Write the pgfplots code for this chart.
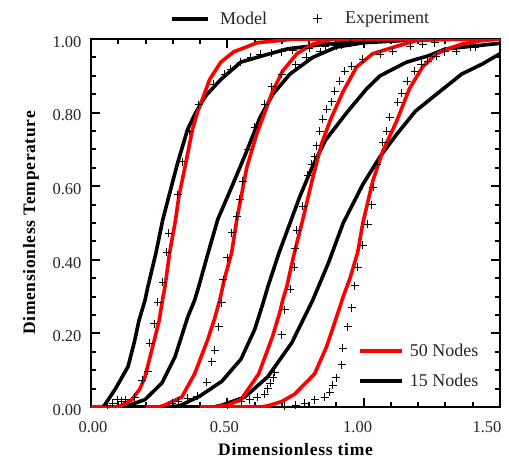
\documentclass[border=0pt]{standalone}
\usepackage{pgfplots}
\pgfplotsset{compat=1.18}
\usepackage{fontspec}
\setmainfont{Liberation Serif}
\newfontfamily\labelfont[LetterSpace=4.0]{Liberation Serif}
\pgfplotsset{modelleg/.style={legend image code/.code={\draw[##1] (0pt,0pt) -- (36pt,0pt);}},
  expleg/.style={legend image code/.code={\draw[##1, draw=none] (0pt,0pt) -- (36pt,0pt); \draw[##1] plot coordinates {(18pt,0pt)};}},
  curve/.style={line width=3.6pt, line join=round, forget plot}}
\begin{document}
\begin{tikzpicture}
\begin{axis}[
  width=409pt, height=368pt, scale only axis,
  xmin=0, xmax=1.5, ymin=0, ymax=1,
  xtick={0,0.5,1,1.5}, minor x tick num=4,
  xticklabels={{\makebox[0pt]{\hspace*{4pt}0.00}},{\makebox[0pt]{\hspace*{-6pt}0.50}},{\makebox[0pt]{\hspace*{-12pt}1.00}},{\makebox[0pt]{\hspace*{-26pt}1.50}}},
  ytick={0,0.2,0.4,0.6,0.8,1}, minor y tick num=3,
  axis line style={line width=2.5pt},
  major tick length=9pt, minor tick length=5pt,
  every tick/.style={line width=2pt, black},
  tick align=inside,
  /pgf/number format/.cd, fixed, fixed zerofill, precision=2, assume math mode=true,
  /pgfplots/.cd,
  ticklabel style={font=\fontsize{16.5}{18}\selectfont, text=black!85},
  xticklabel style={yshift=-11pt},
  yticklabel style={xshift=-6pt, yshift=-3pt},
  xlabel={Dimensionless time},
  ylabel={Dimensionless Temperature},
  label style={font=\labelfont\fontsize{17.5}{20}\selectfont\bfseries},
  xlabel shift=4pt,
  ylabel shift=7pt,
  legend style={at={(0.96,0.04)}, anchor=south east, draw=none, fill=none,
    font=\fontsize{18}{20}\selectfont, text=black!85, row sep=12pt,
    /tikz/every odd column/.append style={column sep=4pt}},
  legend cell align=left,
  legend image code/.code={\draw[#1] (0pt,0pt) -- (42pt,0pt);},
]
\coordinate (bl) at (rel axis cs:-0.2225,-0.1495);
\coordinate (tr) at (rel axis cs:1.022,1.106);
\addlegendimage{red, line width=3.8pt}
\addlegendentry{50 Nodes}
\addlegendimage{black, line width=3.8pt}
\addlegendentry{15 Nodes}

% ---- 15 nodes (black) ----
\addplot[black, curve] coordinates {
(0,0)(0.04,0)(0.05,0.005)(0.09,0.05)(0.136,0.11)(0.16,0.18)(0.176,0.235)(0.198,0.29)(0.208,0.325)(0.238,0.418)(0.263,0.508)(0.285,0.571)(0.318,0.664)(0.354,0.754)(0.384,0.80)(0.42,0.845)(0.476,0.89)(0.549,0.937)(0.622,0.953)(0.72,0.973)(0.85,0.985)(1.0,0.995)(1.2,1.0)(1.5,1.0)};
\addplot[black, curve] coordinates {
(0,0)(0.12,0)(0.14,0.005)(0.198,0.02)(0.26,0.065)(0.308,0.136)(0.355,0.245)(0.38,0.29)(0.395,0.327)(0.43,0.42)(0.465,0.51)(0.52,0.605)(0.571,0.695)(0.62,0.787)(0.667,0.85)(0.73,0.905)(0.813,0.95)(0.9,0.978)(1.0,0.99)(1.2,0.998)(1.5,1.0)};
\addplot[black, curve] coordinates {
(0,0)(0.30,0)(0.33,0.005)(0.40,0.03)(0.48,0.07)(0.55,0.13)(0.60,0.21)(0.63,0.28)(0.65,0.33)(0.69,0.42)(0.73,0.5)(0.766,0.572)(0.813,0.655)(0.86,0.725)(0.938,0.80)(1.01,0.864)(1.06,0.9)(1.157,0.937)(1.24,0.955)(1.3,0.973)(1.47,0.986)(1.5,0.988)};
\addplot[black, curve] coordinates {
(0.3,0)(0.45,0)(0.48,0.005)(0.564,0.027)(0.648,0.082)(0.736,0.174)(0.813,0.29)(0.87,0.39)(0.925,0.5)(0.997,0.605)(1.06,0.68)(1.12,0.74)(1.19,0.804)(1.267,0.85)(1.36,0.905)(1.435,0.932)(1.5,0.96)};

% ---- 50 nodes (red) ----
\addplot[red, curve] coordinates {
(0,0)(0.10,0)(0.113,0.005)(0.15,0.02)(0.18,0.05)(0.198,0.082)(0.223,0.155)(0.25,0.235)(0.262,0.29)(0.272,0.33)(0.288,0.418)(0.31,0.508)(0.322,0.571)(0.348,0.664)(0.372,0.754)(0.39,0.80)(0.413,0.845)(0.435,0.89)(0.476,0.937)(0.523,0.965)(0.61,0.99)(0.75,1.0)(1.5,1.0)};
\addplot[red, curve] coordinates {
(0.2,0)(0.25,0)(0.27,0.005)(0.333,0.027)(0.38,0.09)(0.428,0.183)(0.452,0.237)(0.472,0.29)(0.49,0.35)(0.516,0.42)(0.535,0.51)(0.571,0.65)(0.607,0.74)(0.637,0.80)(0.667,0.86)(0.703,0.913)(0.755,0.96)(0.813,0.986)(0.886,1.0)(1.5,1.0)};
\addplot[red, curve] coordinates {
(0.4,0)(0.45,0)(0.50,0.005)(0.55,0.02)(0.615,0.09)(0.665,0.19)(0.692,0.256)(0.703,0.29)(0.718,0.327)(0.74,0.4)(0.758,0.455)(0.777,0.51)(0.81,0.613)(0.845,0.714)(0.878,0.78)(0.923,0.855)(0.974,0.924)(1.033,0.96)(1.12,0.98)(1.19,0.995)(1.3,1.0)(1.5,1.0)};
\addplot[red, curve] coordinates {
(0.5,0)(0.62,0)(0.648,0.003)(0.70,0.015)(0.747,0.035)(0.82,0.09)(0.864,0.164)(0.885,0.21)(0.912,0.27)(0.925,0.30)(0.95,0.35)(0.978,0.42)(0.997,0.5)(1.033,0.613)(1.07,0.695)(1.12,0.775)(1.168,0.865)(1.216,0.924)(1.267,0.96)(1.315,0.975)(1.36,0.986)(1.425,0.995)(1.5,1.0)};

% ---- Experiment ----
\addplot[black, only marks, mark=+, mark size=4pt, line width=0.8pt, forget plot] coordinates {
(0.06,0.005)(0.08,0.01)(0.095,0.02)(0.11,0.015)(0.127,0.02)(0.16,0.027)(0.187,0.073)(0.208,0.098)(0.216,0.174)(0.231,0.226)(0.245,0.284)(0.263,0.339)(0.278,0.42)(0.285,0.473)(0.318,0.577)(0.337,0.667)(0.36,0.75)(0.395,0.822)(0.45,0.877)(0.49,0.905)(0.512,0.918)(0.549,0.937)(0.585,0.95)(0.62,0.958)(0.66,0.962)(0.70,0.966)(0.74,0.97)(0.8,0.975)(0.86,0.98)(0.92,0.985)(1.0,0.99)};
\addplot[black, only marks, mark=+, mark size=4pt, line width=0.8pt, forget plot] coordinates {
(0.297,0.01)(0.32,0.015)(0.355,0.024)(0.39,0.03)(0.425,0.068)(0.443,0.123)(0.454,0.155)(0.468,0.218)(0.48,0.283)(0.485,0.346)(0.50,0.406)(0.516,0.474)(0.535,0.518)(0.546,0.564)(0.557,0.613)(0.575,0.70)(0.60,0.76)(0.637,0.823)(0.663,0.87)(0.70,0.905)(0.75,0.93)(0.79,0.95)(0.84,0.965)(0.9,0.982)(0.95,0.99)};
\addplot[black, only marks, mark=+, mark size=4pt, line width=0.8pt, forget plot] coordinates {
(0.5,0.005)(0.55,0.015)(0.582,0.02)(0.61,0.027)(0.637,0.035)(0.648,0.05)(0.658,0.065)(0.668,0.08)(0.674,0.095)(0.7,0.196)(0.71,0.264)(0.73,0.32)(0.745,0.38)(0.748,0.43)(0.755,0.48)(0.777,0.545)(0.795,0.63)(0.81,0.66)(0.82,0.68)(0.828,0.71)(0.839,0.749)(0.85,0.782)(0.864,0.809)(0.883,0.83)(0.894,0.858)(0.912,0.886)(0.93,0.913)(0.956,0.926)(0.997,0.945)(1.06,0.959)(1.106,0.967)(1.17,0.98)(1.216,0.986)(1.26,0.99)};
\addplot[black, only marks, mark=+, mark size=4pt, line width=0.8pt, forget plot] coordinates {
(0.71,0.003)(0.75,0.005)(0.784,0.01)(0.82,0.02)(0.857,0.027)(0.875,0.04)(0.886,0.06)(0.9,0.08)(0.919,0.115)(0.923,0.16)(0.941,0.218)(0.956,0.27)(0.967,0.33)(0.978,0.38)(0.997,0.44)(1.015,0.496)(1.03,0.55)(1.035,0.597)(1.05,0.66)(1.07,0.72)(1.084,0.75)(1.095,0.787)(1.125,0.828)(1.14,0.853)(1.16,0.886)(1.187,0.913)(1.21,0.932)(1.235,0.94)(1.267,0.954)(1.297,0.965)(1.34,0.967)(1.39,0.978)(1.41,0.978)};
\end{axis}
% top legend via a second, hidden axis
\begin{axis}[
  width=409pt, height=368pt, scale only axis, hide axis,
  xmin=0, xmax=1, ymin=0, ymax=1,
  legend columns=2,
  legend style={at={(0.513,1.025)}, anchor=south, draw=none, fill=none,
    font=\fontsize{18}{20}\selectfont, text=black!85,
    /tikz/every odd column/.append style={column sep=8pt},
    /tikz/every even column/.append style={column sep=30pt}},
]
\addlegendimage{black, line width=3.8pt, modelleg}
\addlegendentry{Model}
\addlegendimage{black, only marks, mark=+, mark size=4.5pt, line width=0.8pt, expleg}
\addlegendentry{Experiment}
\end{axis}
\path (bl) rectangle (tr);
\end{tikzpicture}
\end{document}
